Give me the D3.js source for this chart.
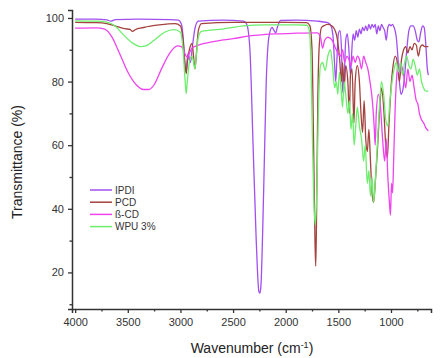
<!DOCTYPE html>
<html>
<head>
<meta charset="utf-8">
<script src="https://cdn.jsdelivr.net/npm/d3@7"></script>
<style>
  body { margin: 0; background: #fff; }
  svg { display: block; font-family: Arial, "Liberation Sans", sans-serif; }
</style>
</head>
<body>
<div id="chart"></div>
<script>
// spectra: [wavenumber cm-1, transmittance %]
const ipdi = [
  [4000, 99.6], [3800, 99.6], [3700, 99.4], [3660, 99.0], [3620, 99.5], [3400, 99.6], [3100, 99.5],
  [3020, 99.3], [2990, 98], [2970, 92], [2955, 84], [2945, 83], [2935, 87], [2925, 89], [2915, 87],
  [2905, 86], [2890, 90], [2860, 97], [2830, 99], [2600, 99.3], [2400, 99], [2370, 98], [2340, 90],
  [2310, 60], [2280, 30], [2255, 14], [2245, 13.5], [2235, 16], [2210, 45], [2185, 80], [2160, 94],
  [2130, 97], [2110, 96], [2095, 95.3], [2080, 97], [2050, 99.2], [1900, 99.3], [1700, 99], [1600, 98.5],
  [1570, 97.5], [1550, 94], [1535, 85], [1525, 80], [1515, 86], [1500, 95], [1485, 96], [1470, 90],
  [1460, 78], [1450, 76], [1440, 85], [1430, 93], [1415, 95], [1400, 90], [1385, 82], [1375, 88],
  [1360, 95], [1345, 93], [1330, 96], [1315, 94], [1300, 96.5], [1285, 95], [1270, 97], [1255, 96],
  [1240, 97.5], [1225, 96], [1210, 98], [1195, 96.5], [1180, 98], [1165, 97], [1150, 98], [1135, 95],
  [1120, 97.5], [1105, 96], [1090, 98], [1075, 97], [1060, 96], [1045, 93], [1030, 97], [1015, 98],
  [1000, 97.5], [985, 98], [970, 97], [950, 94], [935, 88], [920, 80], [905, 76], [890, 77],
  [870, 82], [850, 90], [830, 96], [810, 97.5], [790, 97.5], [770, 96], [750, 93], [735, 92.5],
  [720, 95], [700, 97.5], [685, 97], [670, 92], [655, 84], [645, 82]
];

const pcd = [
  [4000, 98.6], [3800, 98.5], [3700, 98.2], [3600, 97.3], [3520, 96.6], [3480, 96.4], [3455, 95.8],
  [3430, 96.3], [3350, 97], [3200, 97.8], [3050, 98.2], [3000, 97.5], [2975, 93], [2955, 85],
  [2945, 82.5], [2935, 86], [2915, 90], [2890, 92], [2870, 86], [2862, 84], [2850, 88], [2830, 96],
  [2800, 98.2], [2500, 98.6], [2000, 98.6], [1800, 98.5], [1770, 97.5], [1750, 90], [1735, 60],
  [1722, 30], [1715, 22], [1708, 35], [1695, 75], [1680, 92], [1660, 97], [1640, 97.5], [1600, 98],
  [1560, 97.5], [1520, 95], [1490, 88], [1470, 80], [1460, 86], [1445, 78], [1430, 85], [1410, 80],
  [1395, 70], [1385, 82], [1370, 84], [1352, 67], [1340, 80], [1320, 85], [1300, 80], [1285, 70],
  [1270, 64], [1255, 74], [1240, 62], [1225, 58], [1210, 65], [1195, 55], [1180, 45], [1165, 42],
  [1150, 48], [1130, 58], [1110, 70], [1090, 78], [1070, 72], [1050, 60], [1035, 56], [1020, 66],
  [1000, 78], [980, 85], [960, 88], [940, 86], [920, 80], [900, 87], [880, 90], [860, 91], [840, 89],
  [820, 91], [800, 90], [780, 92], [760, 91.5], [740, 88], [720, 91], [700, 91.5], [680, 91], [660, 91],
  [645, 91]
];

const bcd = [
  [4000, 96.8], [3800, 96.9], [3720, 96.5], [3650, 94], [3580, 89], [3500, 83], [3420, 79], [3350, 77.5],
  [3300, 77.5], [3250, 79], [3180, 84], [3100, 89], [3030, 91.2], [2990, 91], [2960, 89], [2935, 87.5],
  [2915, 89], [2890, 90.5], [2850, 91.2], [2700, 92.5], [2500, 93.5], [2300, 94.5], [2100, 95],
  [1900, 95.2], [1700, 95.3], [1670, 94], [1650, 90.5], [1630, 93], [1600, 94], [1560, 93], [1520, 90],
  [1480, 88], [1460, 90], [1440, 86], [1420, 88], [1400, 87], [1380, 85], [1360, 88], [1340, 86],
  [1320, 88], [1300, 87], [1280, 84], [1260, 88], [1240, 86], [1220, 84], [1200, 80], [1180, 75],
  [1160, 66], [1150, 60], [1140, 70], [1120, 76], [1100, 72], [1080, 62], [1060, 55], [1045, 62],
  [1030, 50], [1015, 42], [1005, 38], [995, 48], [985, 45], [975, 55], [960, 72], [945, 82], [930, 86],
  [915, 83], [900, 85], [880, 82], [860, 78], [840, 84], [820, 80], [800, 82], [780, 78], [760, 74],
  [745, 73], [730, 70], [710, 68], [690, 67], [670, 65.5], [645, 64.5]
];

const wpu = [
  [4000, 99.1], [3800, 99], [3700, 98.7], [3620, 97.5], [3550, 95], [3450, 92], [3380, 91], [3330, 91.2],
  [3250, 93], [3150, 95.5], [3060, 96.3], [3000, 95.5], [2975, 90], [2955, 80], [2945, 76.2], [2935, 80],
  [2915, 86], [2890, 88], [2870, 85], [2862, 84], [2850, 88], [2830, 94], [2800, 95.8], [2600, 96.5],
  [2400, 97.5], [2200, 97.8], [1900, 97.8], [1800, 97.7], [1775, 96], [1760, 85], [1745, 60], [1730, 40],
  [1718, 35], [1705, 45], [1690, 70], [1670, 85], [1650, 86], [1625, 83.5], [1600, 88], [1575, 90],
  [1555, 85], [1535, 78], [1520, 80], [1505, 76], [1490, 83], [1475, 78], [1460, 72], [1445, 80],
  [1430, 76], [1410, 70], [1395, 74], [1380, 65], [1365, 70], [1350, 60], [1335, 66], [1320, 72],
  [1300, 66], [1280, 62], [1260, 55], [1245, 60], [1225, 48], [1210, 52], [1195, 44], [1180, 50],
  [1165, 42], [1150, 48], [1130, 60], [1110, 72], [1090, 80], [1070, 76], [1050, 68], [1030, 66],
  [1010, 74], [990, 80], [970, 84], [950, 86], [930, 83], [910, 86], [890, 82], [870, 86], [850, 88],
  [830, 85], [810, 84], [790, 87], [770, 85], [750, 82], [730, 84], [710, 80], [690, 78], [670, 77],
  [645, 77]
];

const seriesNames = ['IPDI', 'PCD', 'ß-CD', 'WPU 3%'];
const seriesData = [ipdi, pcd, bcd, wpu];
const seriesColors = ['#a24ff0', '#a3423e', '#ee44ee', '#6cee6c'];

const xMajorTicks = [4000, 3500, 3000, 2500, 2000, 1500, 1000];
const xMinorTicks = [3750, 3250, 2750, 2250, 1750, 1250, 750];
const yMajorTicks = [20, 40, 60, 80, 100];
const yMinorTicks = [10, 30, 50, 70, 90];

const width = 440, height = 358;

const svg = d3.select('#chart').append('svg')
  .attr('width', width)
  .attr('height', height);

const x = d3.scaleLinear().domain([4030, 620]).range([72, 431]);
const y = d3.scaleLinear().domain([8.5, 102.5]).range([309, 10]);

const axisColor = '#333';

// spectra
const line = d3.line()
  .x(d => x(d[0]))
  .y(d => y(d[1]))
  .curve(d3.curveMonotoneX);

svg.append('g')
  .attr('fill', 'none')
  .selectAll('path')
  .data(seriesData)
  .join('path')
  .attr('stroke', (d, i) => seriesColors[i])
  .attr('stroke-width', 1.3)
  .attr('stroke-linejoin', 'round')
  .attr('d', d => line(d.slice().sort((a, b) => b[0] - a[0])));

// axes
const xAxis = svg.append('g')
  .attr('transform', `translate(0,309)`)
  .call(d3.axisBottom(x).tickValues(xMajorTicks).tickSize(4).tickPadding(5).tickFormat(d3.format('d')));
svg.append('g')
  .attr('transform', `translate(0,309)`)
  .call(d3.axisBottom(x).tickValues(xMinorTicks).tickSize(2.5).tickFormat(''))
  .call(g => g.select('.domain').remove());

const yAxis = svg.append('g')
  .attr('transform', `translate(72,0)`)
  .call(d3.axisLeft(y).tickValues(yMajorTicks).tickSize(4).tickPadding(4));
svg.append('g')
  .attr('transform', `translate(72,0)`)
  .call(d3.axisLeft(y).tickValues(yMinorTicks).tickSize(2.5).tickFormat(''))
  .call(g => g.select('.domain').remove());

svg.selectAll('.domain').attr('stroke', axisColor).attr('stroke-width', 1.5);
svg.selectAll('.tick line').attr('stroke', axisColor).attr('stroke-width', 1.3);
svg.selectAll('.tick text')
  .attr('fill', '#333')
  .attr('font-size', 11)
  .attr('font-family', 'Arial, "Liberation Sans", sans-serif');

// axis titles
svg.append('text')
  .attr('x', 252)
  .attr('y', 353)
  .attr('text-anchor', 'middle')
  .attr('font-size', 14)
  .attr('fill', '#222')
  .text('Wavenumber (cm')
  .append('tspan').attr('dy', -5).attr('font-size', 9).text('-1')
  .select(function() { return this.parentNode; })
  .append('tspan').attr('dy', 5).text(')');

svg.append('text')
  .attr('transform', 'translate(22,162) rotate(-90)')
  .attr('text-anchor', 'middle')
  .attr('font-size', 14)
  .attr('fill', '#222')
  .text('Transmittance (%)');

// legend
const legend = svg.append('g')
  .selectAll('g')
  .data(seriesNames)
  .join('g')
  .attr('transform', (d, i) => `translate(90,${190 + i * 12.2})`);

legend.append('line')
  .attr('x1', 0).attr('x2', 22)
  .attr('stroke', (d, i) => seriesColors[i])
  .attr('stroke-width', 1.5);

legend.append('text')
  .attr('x', 25)
  .attr('dy', '0.35em')
  .attr('font-size', 10)
  .attr('fill', '#333')
  .text(d => d);
</script>
</body>
</html>
